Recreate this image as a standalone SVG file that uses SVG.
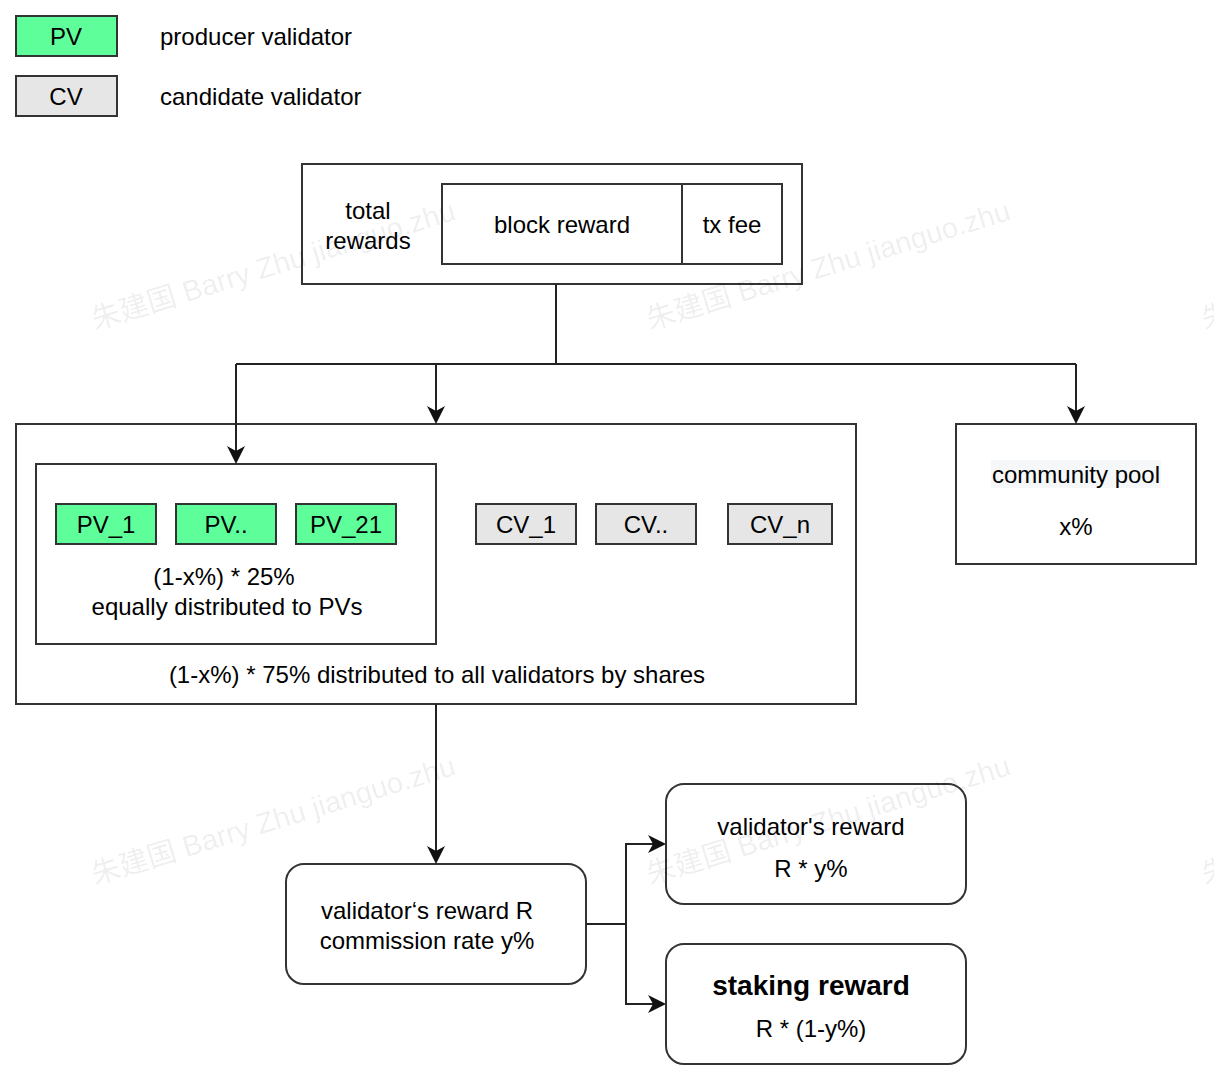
<svg xmlns="http://www.w3.org/2000/svg" width="1214" height="1082" viewBox="0 0 1214 1082">
<style>
  .box{fill:#ffffff;stroke:#333333;stroke-width:2}
  .pv{fill:#5EFF9B;stroke:#333333;stroke-width:2}
  .cv{fill:#E6E6E6;stroke:#333333;stroke-width:2}
  .t{font-family:"Liberation Sans",Arial,Helvetica,sans-serif;font-size:24px;fill:#000000;text-anchor:middle;dominant-baseline:central}
  .l{text-anchor:start}
  .b{font-weight:bold;font-size:28px}
  .edge{fill:none;stroke:#222222;stroke-width:2}
  .wm{font-family:"Liberation Sans","Noto Sans CJK SC",sans-serif;font-size:29px;fill:#000000;fill-opacity:0.075}
</style>
<defs>
  <marker id="arr" markerUnits="userSpaceOnUse" markerWidth="18" markerHeight="18" refX="5" refY="9" orient="auto">
    <path d="M0,0 L18,9 L0,18 L5,9 Z" fill="#111111"/>
  </marker>
</defs>
<rect width="1214" height="1082" fill="#ffffff"/>

<g id="legend-pv">
  <rect class="pv" x="16" y="16" width="101" height="40"/>
  <text class="t" x="66" y="36">PV</text>
  <text class="t l" x="160" y="36">producer validator</text>
</g>
<g id="legend-cv">
  <rect class="cv" x="16" y="76" width="101" height="40"/>
  <text class="t" x="66" y="96">CV</text>
  <text class="t l" x="160" y="96">candidate validator</text>
</g>

<g id="total-rewards">
  <rect class="box" x="302" y="164" width="500" height="120"/>
  <text class="t" x="368" y="210">total</text>
  <text class="t" x="368" y="240">rewards</text>
</g>
<g id="block-reward">
  <rect class="box" x="442" y="184" width="240" height="80"/>
  <text class="t" x="562" y="224">block reward</text>
</g>
<g id="tx-fee">
  <rect class="box" x="682" y="184" width="100" height="80"/>
  <text class="t" x="732" y="224">tx fee</text>
</g>

<g id="all-validators">
  <rect class="box" x="16" y="424" width="840" height="280"/>
  <text class="t" x="437" y="674">(1-x%) * 75% distributed to all validators by shares</text>
</g>
<g id="pv-group">
  <rect class="box" x="36" y="464" width="400" height="180"/>
  <text class="t" x="224" y="576">(1-x%) * 25%</text>
  <text class="t" x="227" y="606">equally distributed to PVs</text>
</g>
<g id="pv1">
  <rect class="pv" x="56" y="504" width="100" height="40"/>
  <text class="t" x="106" y="524">PV_1</text>
</g>
<g id="pv2">
  <rect class="pv" x="176" y="504" width="100" height="40"/>
  <text class="t" x="226" y="524">PV..</text>
</g>
<g id="pv21">
  <rect class="pv" x="296" y="504" width="100" height="40"/>
  <text class="t" x="346" y="524">PV_21</text>
</g>
<g id="cv1">
  <rect class="cv" x="476" y="504" width="100" height="40"/>
  <text class="t" x="526" y="524">CV_1</text>
</g>
<g id="cv2">
  <rect class="cv" x="596" y="504" width="100" height="40"/>
  <text class="t" x="646" y="524">CV..</text>
</g>
<g id="cvn">
  <rect class="cv" x="728" y="504" width="104" height="40"/>
  <text class="t" x="780" y="524">CV_n</text>
</g>

<g id="community-pool">
  <rect class="box" x="956" y="424" width="240" height="140"/>
  <rect x="991" y="460" width="170" height="28" fill="#f5f7f9"/>
  <text class="t" x="1076" y="474">community pool</text>
  <text class="t" x="1076" y="526">x%</text>
</g>

<g id="validator-reward-r">
  <rect class="box" x="286" y="864" width="300" height="120" rx="18" ry="18"/>
  <text class="t" x="427" y="910">validator‘s reward R</text>
  <text class="t" x="427" y="940">commission rate y%</text>
</g>
<g id="validator-reward">
  <rect class="box" x="666" y="784" width="300" height="120" rx="18" ry="18"/>
  <text class="t" x="811" y="826">validator's reward</text>
  <text class="t" x="811" y="868">R * y%</text>
</g>
<g id="staking-reward">
  <rect class="box" x="666" y="944" width="300" height="120" rx="18" ry="18"/>
  <text class="t b" x="811" y="985">staking reward</text>
  <text class="t" x="811" y="1028">R * (1-y%)</text>
</g>

<g id="connectors">
  <path class="edge" d="M556,284 V364"/>
  <path class="edge" d="M236,364 H1076"/>
  <path class="edge" d="M236,364 V451" marker-end="url(#arr)"/>
  <path class="edge" d="M436,364 V411" marker-end="url(#arr)"/>
  <path class="edge" d="M1076,364 V411" marker-end="url(#arr)"/>
  <path class="edge" d="M436,704 V851" marker-end="url(#arr)"/>
  <path class="edge" d="M586,924 H626"/>
  <path class="edge" d="M626,924 V844 H653" marker-end="url(#arr)"/>
  <path class="edge" d="M626,924 V1004 H653" marker-end="url(#arr)"/>
</g>

<g id="watermarks">
  <text class="wm" x="95" y="330" transform="rotate(-17 95 330)">朱建国 Barry Zhu jianguo.zhu</text>
  <text class="wm" x="650" y="330" transform="rotate(-17 650 330)">朱建国 Barry Zhu jianguo.zhu</text>
  <text class="wm" x="1205" y="330" transform="rotate(-17 1205 330)">朱建国 Barry Zhu jianguo.zhu</text>
  <text class="wm" x="95" y="885" transform="rotate(-17 95 885)">朱建国 Barry Zhu jianguo.zhu</text>
  <text class="wm" x="650" y="885" transform="rotate(-17 650 885)">朱建国 Barry Zhu jianguo.zhu</text>
  <text class="wm" x="1205" y="885" transform="rotate(-17 1205 885)">朱建国 Barry Zhu jianguo.zhu</text>
</g>
</svg>
